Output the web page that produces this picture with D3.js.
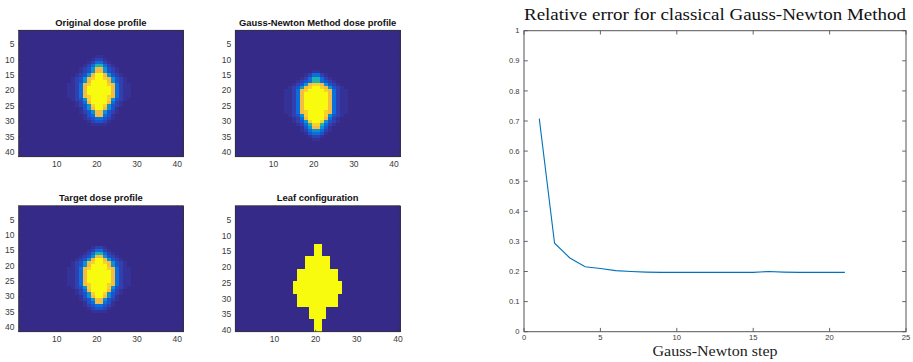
<!DOCTYPE html>
<html>
<head>
<meta charset="utf-8">
<script src="https://cdn.jsdelivr.net/npm/d3@7"></script>
<style>
  body { margin: 0; background: #fff; }
  svg { display: block; }
</style>
</head>
<body>
<svg id="chart" width="913" height="362"></svg>
<script>
// ---- data ----
const doseSize = 41;
const leafSize = 40;
const doseColStart = 11; // first column held in the row strings below
// level code (0-9) -> dose value relative to the peak
const levelValues = [0, 0.02, 0.05, 0.1, 0.17, 0.3, 0.45, 0.82, 0.9, 1];

const originalRowStart = 9;
const originalRows = [
  "00000000011000000000",
  "00000000122100000000",
  "00000001244210000000",
  "00000012466421000000",
  "00000123577532100000",
  "00000123577532100000",
  "00001235799753210000",
  "00012357899875321000",
  "00012357999975321000",
  "00112478999987421100",
  "00112479999997421100",
  "00112479999997421100",
  "00112479999997421100",
  "00112478999987421100",
  "00012358999985321000",
  "00001247999974210000",
  "00001235899853210000",
  "00000135799753100000",
  "00000123577532100000",
  "00000013477431000000",
  "00000012344321000000",
  "00000001233210000000",
  "00000000111100000000"
];

const gaussNewtonRowStart = 14;
const gaussNewtonRows = [
  "00000000011000000000",
  "00000001244210000000",
  "00000012466421000000",
  "00000123466432100000",
  "00001235788753210000",
  "00012357899875321000",
  "00112478999987421100",
  "00112479999997421100",
  "00112479999997421100",
  "00112479999997421100",
  "00112479999997421100",
  "00112479999997421100",
  "00112479999997421100",
  "00112478999987421100",
  "00012358999985321000",
  "00001247999974210000",
  "00001235899853210000",
  "00000124688642100000",
  "00000013577531000000",
  "00000012455421000000",
  "00000001344310000000",
  "00000000122100000000",
  "00000000011000000000"
];

const targetRowStart = 14;
const targetRows = [
  "00000000122100000000",
  "00000001244210000000",
  "00000012466421000000",
  "00000123577532100000",
  "00001235799753210000",
  "00012357899875321000",
  "00012357999975321000",
  "00112478999987421100",
  "00112479999997421100",
  "00112479999997421100",
  "00112479999997421100",
  "00112479999997421100",
  "00112478999987421100",
  "00012358999985321000",
  "00001247999974210000",
  "00001235899853210000",
  "00000135799753100000",
  "00000123577532100000",
  "00000013477431000000",
  "00000012344321000000",
  "00000001233210000000",
  "00000000111100000000"
];

// leaf openings: each leaf covers 4 rows
const leafHeight = 4;
const leafRowStart = [13, 17, 21, 25, 29, 33, 37];
const leafColFrom = [20, 18, 16, 15, 16, 19, 20];
const leafColTo = [21, 23, 25, 26, 25, 22, 21];

const heatXTicks = [10, 20, 30, 40];
const heatYTicks = [5, 10, 15, 20, 25, 30, 35, 40];

const gnSteps = [1, 2, 3, 4, 5, 6, 7, 8, 9, 10, 11, 12, 13, 14, 15, 16, 17, 18, 19, 20, 21];
const relError = [0.708, 0.294, 0.245, 0.216, 0.21, 0.203, 0.2, 0.198, 0.197, 0.197, 0.197,
  0.197, 0.197, 0.197, 0.197, 0.2, 0.198, 0.197, 0.197, 0.197, 0.197];
const lineXTicks = [0, 5, 10, 15, 20, 25];
const lineYTicks = [0, 0.1, 0.2, 0.3, 0.4, 0.5, 0.6, 0.7, 0.8, 0.9, 1];

// parula colormap
const parulaStops = [0, 4 / 63, 8 / 63, 16 / 63, 24 / 63, 32 / 63, 40 / 63, 48 / 63, 53 / 63, 58 / 63, 1];
const parulaColors = ['#352a87', '#3243ba', '#0363e1', '#1485d4', '#06a7c6', '#38b99e',
  '#92bf73', '#d9ba56', '#fdbe3d', '#f7d826', '#f9fb0e'];

const AXIS_COLOR = '#333333';
const LABEL_COLOR = '#3a3a3a';
const SANS = '"Liberation Sans", Arial, Helvetica, sans-serif';
const SERIF = '"Liberation Serif", "DejaVu Serif", serif';

const svg = d3.select('#chart');

function rowsToMatrix(rowStart, rows) {
  const m = d3.range(doseSize).map(() => new Array(doseSize).fill(0));
  rows.forEach((s, i) => {
    [...s].forEach((ch, j) => {
      m[rowStart - 1 + i][doseColStart - 1 + j] = levelValues[+ch];
    });
  });
  return m;
}

function leafMatrix() {
  const m = d3.range(leafSize).map(() => new Array(leafSize).fill(0));
  leafRowStart.forEach((start, b) => {
    for (let r = start; r < start + leafHeight; r++) {
      for (let c = leafColFrom[b]; c <= leafColTo[b]; c++) m[r - 1][c - 1] = 1;
    }
  });
  return m;
}

function drawHeatmap(matrix, box, title) {
  const nRows = matrix.length;
  const nCols = matrix[0].length;
  const maxV = d3.max(matrix, (row) => d3.max(row)) || 1;

  const x = d3.scaleLinear().domain([0.5, nCols + 0.5]).range([box.left, box.left + box.width]);
  const y = d3.scaleLinear().domain([0.5, nRows + 0.5]).range([box.top, box.top + box.height]);
  const color = d3.scaleLinear()
    .domain(parulaStops.map((s) => s * maxV))
    .range(parulaColors)
    .interpolate(d3.interpolateRgb)
    .clamp(true);

  const cells = [];
  matrix.forEach((row, r) => row.forEach((v, c) => cells.push({ r: r + 1, c: c + 1, v })));

  const g = svg.append('g');

  g.selectAll('rect.cell')
    .data(cells)
    .enter()
    .append('rect')
    .attr('class', 'cell')
    .attr('shape-rendering', 'crispEdges')
    .attr('x', (d) => x(d.c - 0.5))
    .attr('y', (d) => y(d.r - 0.5))
    .attr('width', (d) => x(d.c + 0.5) - x(d.c - 0.5) + 0.5)
    .attr('height', (d) => y(d.r + 0.5) - y(d.r - 0.5) + 0.5)
    .attr('fill', (d) => color(d.v));

  // box
  g.append('rect')
    .attr('x', box.left)
    .attr('y', box.top)
    .attr('width', box.width)
    .attr('height', box.height)
    .attr('fill', 'none')
    .attr('stroke', AXIS_COLOR)
    .attr('stroke-width', 0.8);

  const tick = 1.8;
  const bottom = box.top + box.height;
  const right = box.left + box.width;

  // x ticks (bottom + top, inward)
  heatXTicks.forEach((t) => {
    g.append('line').attr('x1', x(t)).attr('x2', x(t)).attr('y1', bottom).attr('y2', bottom - tick)
      .attr('stroke', AXIS_COLOR).attr('stroke-width', 0.7);
    g.append('line').attr('x1', x(t)).attr('x2', x(t)).attr('y1', box.top).attr('y2', box.top + tick)
      .attr('stroke', AXIS_COLOR).attr('stroke-width', 0.7);
  });
  heatYTicks.forEach((t) => {
    g.append('line').attr('x1', box.left).attr('x2', box.left + tick).attr('y1', y(t)).attr('y2', y(t))
      .attr('stroke', AXIS_COLOR).attr('stroke-width', 0.7);
    g.append('line').attr('x1', right).attr('x2', right - tick).attr('y1', y(t)).attr('y2', y(t))
      .attr('stroke', AXIS_COLOR).attr('stroke-width', 0.7);
  });

  g.selectAll('text.xt')
    .data(heatXTicks)
    .enter()
    .append('text')
    .attr('class', 'xt')
    .attr('x', (d) => x(d))
    .attr('y', bottom + 10)
    .attr('text-anchor', 'middle')
    .attr('font-family', SANS)
    .attr('font-size', 8.5)
    .attr('fill', LABEL_COLOR)
    .text((d) => d);

  g.selectAll('text.yt')
    .data(heatYTicks)
    .enter()
    .append('text')
    .attr('class', 'yt')
    .attr('x', box.left - 4)
    .attr('y', (d) => y(d))
    .attr('dy', '0.35em')
    .attr('text-anchor', 'end')
    .attr('font-family', SANS)
    .attr('font-size', 8.5)
    .attr('fill', LABEL_COLOR)
    .text((d) => d);

  g.append('text')
    .attr('x', box.left + box.width / 2)
    .attr('y', box.top - 4.5)
    .attr('text-anchor', 'middle')
    .attr('font-family', SANS)
    .attr('font-weight', 'bold')
    .attr('font-size', 9.4)
    .attr('fill', '#111')
    .text(title);
}

drawHeatmap(rowsToMatrix(originalRowStart, originalRows),
  { left: 18.5, top: 30.3, width: 164.8, height: 126.4 }, 'Original dose profile');
drawHeatmap(rowsToMatrix(gaussNewtonRowStart, gaussNewtonRows),
  { left: 235.3, top: 30.3, width: 164.8, height: 126.4 }, 'Gauss-Newton Method dose profile');
drawHeatmap(rowsToMatrix(targetRowStart, targetRows),
  { left: 18.5, top: 205.7, width: 164.8, height: 126 }, 'Target dose profile');
drawHeatmap(leafMatrix(),
  { left: 235.3, top: 205.7, width: 164.8, height: 126 }, 'Leaf configuration');

// ---- line chart ----
const lb = { left: 524, top: 30.7, right: 906, bottom: 331.7 };
const lx = d3.scaleLinear().domain([0, 25]).range([lb.left, lb.right]);
const ly = d3.scaleLinear().domain([0, 1]).range([lb.bottom, lb.top]);
const lg = svg.append('g');

lg.append('rect')
  .attr('x', lb.left)
  .attr('y', lb.top)
  .attr('width', lb.right - lb.left)
  .attr('height', lb.bottom - lb.top)
  .attr('fill', '#fff')
  .attr('stroke', '#555')
  .attr('stroke-width', 1);

const ltick = 3.8;
lineXTicks.forEach((t) => {
  lg.append('line').attr('x1', lx(t)).attr('x2', lx(t)).attr('y1', lb.bottom).attr('y2', lb.bottom - ltick)
    .attr('stroke', '#555').attr('stroke-width', 0.9);
  lg.append('line').attr('x1', lx(t)).attr('x2', lx(t)).attr('y1', lb.top).attr('y2', lb.top + ltick)
    .attr('stroke', '#555').attr('stroke-width', 0.9);
});
lineYTicks.forEach((t) => {
  lg.append('line').attr('x1', lb.left).attr('x2', lb.left + ltick).attr('y1', ly(t)).attr('y2', ly(t))
    .attr('stroke', '#555').attr('stroke-width', 0.9);
  lg.append('line').attr('x1', lb.right).attr('x2', lb.right - ltick).attr('y1', ly(t)).attr('y2', ly(t))
    .attr('stroke', '#555').attr('stroke-width', 0.9);
});

lg.selectAll('text.lxt')
  .data(lineXTicks)
  .enter()
  .append('text')
  .attr('class', 'lxt')
  .attr('x', (d) => lx(d))
  .attr('y', lb.bottom + 8.6)
  .attr('text-anchor', 'middle')
  .attr('font-family', SANS)
  .attr('font-size', 7.6)
  .attr('fill', LABEL_COLOR)
  .text((d) => d);

lg.selectAll('text.lyt')
  .data(lineYTicks)
  .enter()
  .append('text')
  .attr('class', 'lyt')
  .attr('x', lb.left - 4.5)
  .attr('y', (d) => ly(d))
  .attr('dy', '0.35em')
  .attr('text-anchor', 'end')
  .attr('font-family', SANS)
  .attr('font-size', 7.6)
  .attr('fill', LABEL_COLOR)
  .text((d) => String(+d.toFixed(1)));

const points = gnSteps.map((s, i) => [s, relError[i]]);
lg.append('path')
  .datum(points)
  .attr('fill', 'none')
  .attr('stroke', '#0072bd')
  .attr('stroke-width', 1.1)
  .attr('d', d3.line().x((d) => lx(d[0])).y((d) => ly(d[1])));

lg.append('text')
  .attr('x', (lb.left + lb.right) / 2)
  .attr('y', 20)
  .attr('text-anchor', 'middle')
  .attr('font-family', SERIF)
  .attr('font-size', 17)
  .attr('textLength', 382)
  .attr('lengthAdjust', 'spacingAndGlyphs')
  .attr('fill', '#111')
  .text('Relative error for classical Gauss-Newton Method');

lg.append('text')
  .attr('x', (lb.left + lb.right) / 2)
  .attr('y', 356)
  .attr('text-anchor', 'middle')
  .attr('font-family', SERIF)
  .attr('font-size', 14)
  .attr('textLength', 125)
  .attr('lengthAdjust', 'spacingAndGlyphs')
  .attr('fill', '#222')
  .text('Gauss-Newton step');
</script>
</body>
</html>
